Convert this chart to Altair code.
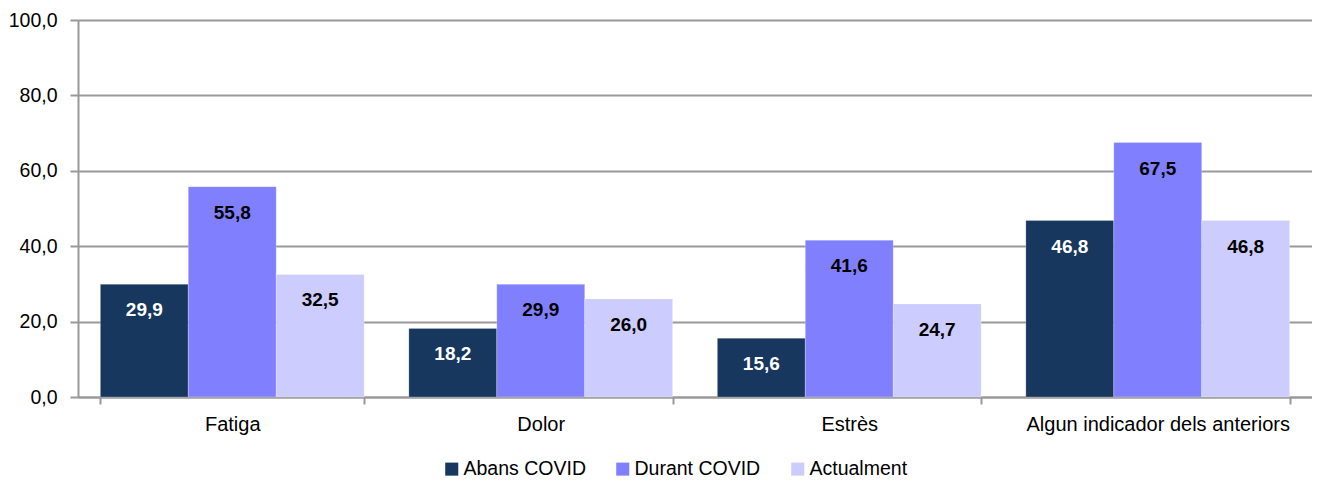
import altair as alt
import pandas as pd

categories = ["Fatiga", "Dolor", "Estrès", "Algun indicador dels anteriors"]
series = ["Abans COVID", "Durant COVID", "Actualment"]
abans = [29.9, 18.2, 15.6, 46.8]
durant = [55.8, 29.9, 41.6, 67.5]
actualment = [32.5, 26.0, 24.7, 46.8]
colors = ["#17375E", "#8080FF", "#CCCCFF"]
label_colors = ["#FFFFFF", "#000000", "#000000"]
y_ticks = [0, 20, 40, 60, 80, 100]

rows = []
for vals, s in zip([abans, durant, actualment], series):
    for c, v in zip(categories, vals):
        rows.append({"cat": c, "serie": s, "val": v})
df = pd.DataFrame(rows)

FONT = "Liberation Sans"

x = alt.X("cat:N", sort=categories, title=None,
          scale=alt.Scale(paddingInner=0.145, paddingOuter=0.0725),
          axis=alt.Axis(labelAngle=0, labelFontSize=20, labelFont=FONT, labelColor="#000",
                        labelLimit=0,
                        tickBand="extent", tickSize=7, tickColor="#999", tickWidth=2,
                        domainColor="#999", domainWidth=2, labelPadding=10))
xo = alt.XOffset("serie:N", sort=series)
y = alt.Y("val:Q", title=None,
          scale=alt.Scale(domain=[0, 100], nice=False),
          axis=alt.Axis(values=y_ticks, labelExpr="replace(format(datum.value,'.1f'),'.',',')",
                        labelFontSize=19.5, labelFont=FONT, labelColor="#000",
                        tickSize=8, tickColor="#999", tickWidth=2,
                        domainColor="#999", domainWidth=2,
                        gridColor="#999", gridWidth=2, labelPadding=13))

bars = alt.Chart(df).mark_bar(stroke="#FFFFFF", strokeWidth=0.6, strokeOpacity=0.4).encode(
    x=x, xOffset=xo, y=y,
    color=alt.Color("serie:N", sort=series,
                    scale=alt.Scale(domain=series, range=colors),
                    legend=alt.Legend(title=None, orient="none", direction="horizontal",
                                      legendX=364, legendY=439, symbolType="square",
                                      symbolSize=170, symbolOpacity=1, symbolStrokeWidth=0,
                                      labelFontSize=19.5, labelFont=FONT, labelColor="#000",
                                      columnPadding=27, labelOffset=2))
)

text = alt.Chart(df).transform_calculate(
    lab="replace(format(datum.val,'.1f'),'.',',')"
).mark_text(baseline="middle", dy=26, fontSize=19, fontWeight="bold", font=FONT).encode(
    x=alt.X("cat:N", sort=categories), xOffset=xo, y="val:Q",
    text="lab:N",
    color=alt.Color("serie:N", sort=series, scale=alt.Scale(domain=series, range=label_colors), legend=None)
)

chart = alt.layer(bars, text).resolve_scale(color="independent").properties(
    width=1234, height=377,
    autosize=alt.AutoSizeParams(type="none"),
    padding={"left": 70, "top": 12, "right": 0, "bottom": 85},
).configure_view(stroke=None).configure_axis(gridOpacity=1)

chart.save("out.html", embed_options={"renderer": "svg", "actions": False})
